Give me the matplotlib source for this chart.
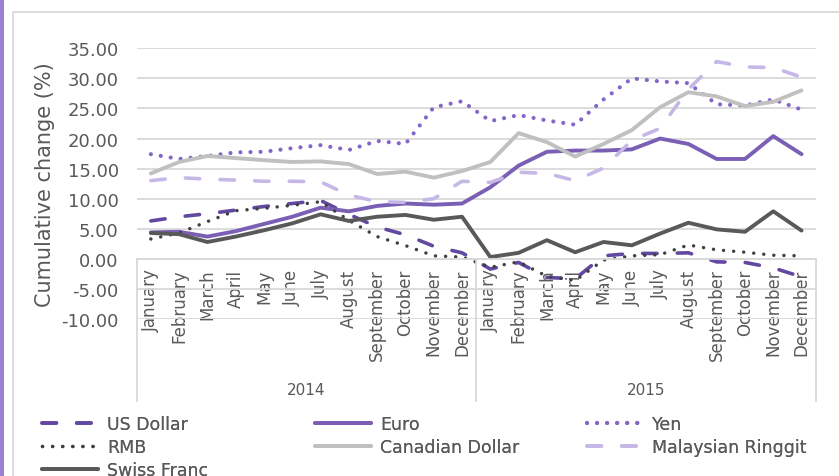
#!/usr/bin/env python3
"""Cumulative change of currencies, 2014-2015."""

import matplotlib
matplotlib.use("Agg")
import matplotlib.pyplot as plt
from matplotlib.lines import Line2D
from matplotlib.patches import Rectangle
from matplotlib.ticker import FormatStrFormatter

plt.rcParams["font.family"] = ["DejaVu Sans"]
plt.rcParams["axes.unicode_minus"] = False

MONTHS = ["January", "February", "March", "April", "May", "June", "July",
          "August", "September", "October", "November", "December"]
YEARS = ["2014", "2015"]

us_dollar = [6.3, 7.0, 7.5, 8.1, 8.7, 9.2, 9.7, 7.4, 5.3, 4.0, 2.1, 1.0,
             -1.7, -0.6, -3.1, -3.3, 0.5, 0.9, 0.9, 1.0, -0.5, -0.6, -1.5, -3.0]
euro = [4.4, 4.5, 3.7, 4.6, 5.8, 7.0, 8.5, 7.9, 8.8, 9.2, 9.0, 9.2,
        11.9, 15.5, 17.8, 18.0, 18.0, 18.2, 20.0, 19.1, 16.6, 16.6, 20.4, 17.4]
yen = [17.4, 16.6, 17.1, 17.7, 17.8, 18.4, 18.9, 18.1, 19.6, 19.1, 25.2, 26.2,
       22.9, 23.9, 23.0, 22.3, 26.5, 30.0, 29.5, 29.2, 25.7, 25.5, 26.5, 24.8]
rmb = [3.3, 4.3, 6.2, 8.0, 8.4, 8.9, 9.5, 6.4, 3.7, 2.2, 0.5, 0.3,
       -1.4, -0.5, -2.9, -3.6, -0.2, 0.5, 0.7, 2.3, 1.5, 1.1, 0.6, 0.5]
canadian_dollar = [14.2, 16.1, 17.1, 16.75, 16.4, 16.1, 16.2, 15.75, 14.1, 14.5, 13.5, 14.6,
                   16.1, 20.9, 19.4, 17.0, 19.1, 21.4, 25.2, 27.7, 27.0, 25.4, 26.1, 28.0]
malaysian_ringgit = [13.0, 13.5, 13.25, 13.1, 12.9, 12.9, 12.8, 10.6, 9.5, 9.4, 10.0, 12.9,
                     12.7, 14.4, 14.2, 13.0, 15.1, 19.7, 21.7, 28.2, 32.8, 31.9, 31.8, 30.2]
swiss_franc = [4.3, 4.1, 2.8, 3.7, 4.75, 5.9, 7.4, 6.3, 7.0, 7.3, 6.5, 7.0,
               0.3, 1.0, 3.1, 1.1, 2.8, 2.25, 4.2, 6.0, 4.9, 4.5, 7.9, 4.7]

TEXT = "#595959"
GRID = "#D9D9D9"
LONG_DASH = (0, (4.0, 5.6))
ROUND_DOT = (0, (0.01, 2.4))


def main() -> None:
    fig = plt.figure(figsize=(8.39, 4.77), dpi=100)
    W, H = 839, 477

    # outer frame: purple left bar and the grey chart border
    fig.add_artist(Rectangle((0, 0), 4 / W, 1, transform=fig.transFigure,
                             facecolor="#9B81D3", edgecolor="none"))
    fig.add_artist(Line2D([13 / W, 13 / W, 1], [0, 1 - 13 / H, 1 - 13 / H],
                          transform=fig.transFigure, color=GRID, lw=1.3))

    ax = fig.add_axes([136.7 / W, 1 - 320 / H, 679 / W, 270.7 / H])
    labels = MONTHS * len(YEARS)
    x = list(range(len(labels)))

    series = [
        ("US Dollar", us_dollar, dict(color="#6248A0", lw=2.6, ls=LONG_DASH)),
        ("Euro", euro, dict(color="#7A5FB5", lw=2.8, ls="-")),
        ("Yen", yen, dict(color="#8466C6", lw=3.0, ls=ROUND_DOT)),
        ("RMB", rmb, dict(color="#404040", lw=2.5, ls=(0, (0.01, 2.9)))),
        ("Canadian Dollar", canadian_dollar, dict(color="#C0C0C0", lw=2.8, ls="-")),
        ("Malaysian Ringgit", malaysian_ringgit, dict(color="#C6B8E6", lw=2.6, ls=LONG_DASH)),
        ("Swiss Franc", swiss_franc, dict(color="#595959", lw=2.8, ls="-")),
    ]
    handles = {}
    for name, values, style in series:
        (line,) = ax.plot(x, values, label=name, dash_capstyle="round",
                          solid_capstyle="round", solid_joinstyle="round", **style)
        handles[name] = line

    ax.set_xlim(-0.5, len(labels) - 0.5)
    ax.set_ylim(-10, 35)
    ax.set_yticks(range(-10, 36, 5))
    ax.yaxis.set_major_formatter(FormatStrFormatter("%.2f"))
    ax.yaxis.grid(True, color=GRID, lw=1.3)
    ax.set_axisbelow(True)

    for side in ("top", "right", "left"):
        ax.spines[side].set_visible(False)
    ax.spines["bottom"].set_position(("data", 0))
    ax.spines["bottom"].set_color(GRID)
    ax.spines["bottom"].set_linewidth(1.3)

    ax.set_xticks(x)
    ax.set_xticklabels(labels, rotation=90, va="top", ha="center")
    ax.tick_params(axis="x", length=0, pad=7, labelsize=12, labelcolor=TEXT)
    ax.tick_params(axis="y", length=0, pad=13, labelsize=13, labelcolor=TEXT)

    # multi-level category axis: separators and year labels
    zero_frac = (0 - ax.get_ylim()[0]) / (ax.get_ylim()[1] - ax.get_ylim()[0])
    trans = ax.get_xaxis_transform()
    n = len(MONTHS)
    for k in range(len(YEARS) + 1):
        xs = k * n - 0.5
        ax.plot([xs, xs], [zero_frac, -0.303], transform=trans, color=GRID,
                lw=1.3, clip_on=False)
    for k, year in enumerate(YEARS):
        ax.text(k * n + (n - 1) / 2, -0.262, year, transform=trans,
                ha="center", va="center", fontsize=11, color=TEXT)

    fig.text(45 / W, 1 - 185 / H, "Cumulative change (%)", rotation=90,
             ha="center", va="center", fontsize=15, color=TEXT)

    columns = [
        (42, ["US Dollar", "RMB", "Swiss Franc"]),
        (315, ["Euro", "Canadian Dollar"]),
        (587, ["Yen", "Malaysian Ringgit"]),
    ]
    for x0, names in columns:
        leg = fig.legend([handles[nm] for nm in names], names,
                         loc="upper left", bbox_to_anchor=(x0 / W, 1 - 416 / H),
                         frameon=False, borderpad=0, borderaxespad=0,
                         handlelength=3.2, handletextpad=0.55, labelspacing=0.3,
                         fontsize=12.5, labelcolor=TEXT)
        fig.add_artist(leg)

    fig.savefig("out.png", dpi=100)
    plt.close(fig)


if __name__ == "__main__":
    main()
